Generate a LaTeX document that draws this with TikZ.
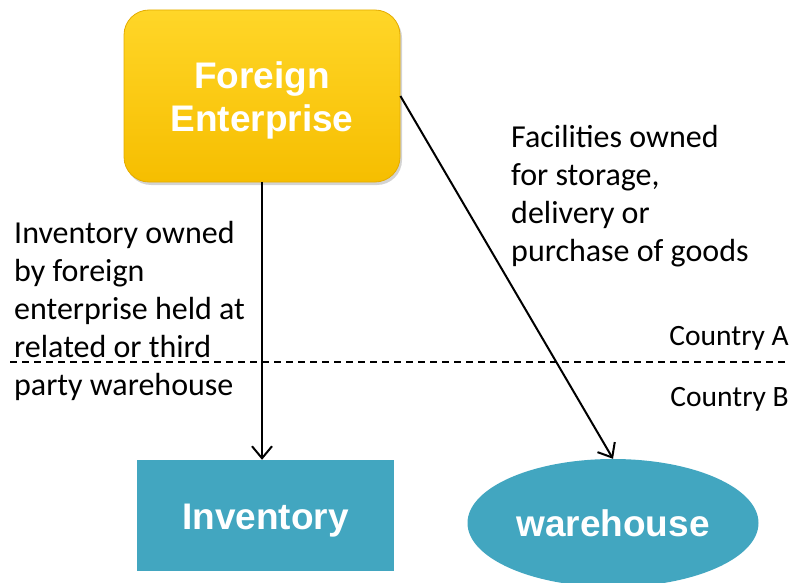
\documentclass[tikz,border=0pt]{standalone}
\usepackage{fontspec}
\setmainfont{Carlito}
\newfontfamily\boxfont{Liberation Sans}
\usetikzlibrary{arrows.meta,shapes.geometric,shadows}
\definecolor{goldtop}{RGB}{255,214,40}
\definecolor{goldbot}{RGB}{246,190,0}
\definecolor{goldrim}{RGB}{228,172,0}
\definecolor{teal}{RGB}{66,166,192}
\begin{document}
\begin{tikzpicture}[x=1pt,y=-1pt,
  entity/.style={rounded corners=25pt, draw=goldrim, thick, top color=goldtop, bottom color=goldbot,
    drop shadow={shadow xshift=2pt, shadow yshift=-3pt, opacity=0.35},
    minimum width=276pt, minimum height=172pt, align=center, text=white,
    font=\boxfont\bfseries\fontsize{37}{43}\selectfont},
  place/.style={fill=teal, inner sep=0pt, text=white, text height=27pt, text depth=0pt,
    font=\boxfont\bfseries\fontsize{37}{43}\selectfont},
  note/.style={inner sep=0pt, align=left, font=\fontsize{32}{38}\selectfont},
  country/.style={inner sep=0pt, font=\fontsize{29.5}{35}\selectfont},
  flow/.style={-{Straight Barb[length=12pt,width=20pt]}, line width=2pt},
  border/.style={dashed, dash pattern=on 7pt off 5pt, line width=1.5pt}]
\useasboundingbox (0,0) rectangle (790,583);

% boxes
\node[entity] (foreign) at (262,96) {\rule{0pt}{36pt}Foreign\\Enterprise};
\node[place, minimum width=257pt, minimum height=111pt] (inventory) at (265.5,515.5) {Inventory};
\node[place, ellipse, minimum width=291pt, minimum height=128pt] (warehouse) at (613,523) {warehouse};

% border between the two countries
\coordinate (lineL) at (10,362);
\coordinate (lineR) at (790,362);
\draw[border] (lineL) -- (lineR);
\node[country, anchor=base east] (ctryA) at (789,345) {Country A};
\node[country, anchor=base east] (ctryB) at (789,406) {Country B};

% texts beside the arrows (base = last line)
\node[note, anchor=base west] (held) at (14,395) {Inventory owned\\by foreign\\enterprise held at\\related or third\\party warehouse};
\node[note, anchor=base west] (owned) at (511,261) {Facilities owned\\for storage,\\delivery or\\purchase of goods};

% arrows
\draw[flow] (foreign.south) -- (foreign.south |- inventory.north);
\draw[flow] (foreign.east) -- (warehouse.north);
\end{tikzpicture}
\end{document}
